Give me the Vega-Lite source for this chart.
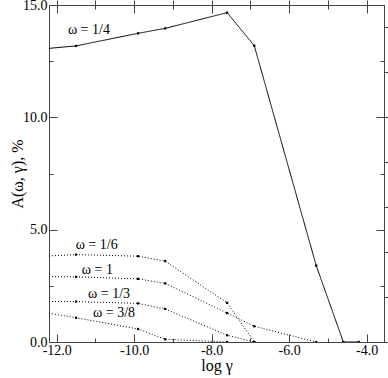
{
  "$schema": "https://vega.github.io/schema/vega-lite/v6.json",
  "width": 335,
  "height": 337,
  "autosize": {"type": "none"},
  "padding": {"left": 49, "top": 5, "right": 4, "bottom": 36},
  "background": "white",
  "config": {
    "view": {"stroke": null},
    "axis": {"grid": false, "domainColor": "#444", "tickColor": "#444", "labelFont": "Liberation Serif", "labelFontSize": 14, "labelColor": "black", "titleFont": "Liberation Serif", "titleColor": "black", "titleFontWeight": "normal", "labelOverlap": false, "labelFlush": false, "labelBound": false}
  },
  "datasets": {
    "curves": [
      {"omega": "1/4", "x": -12.2, "y": 13.07},
      {"omega": "1/4", "x": -11.5, "y": 13.18},
      {"omega": "1/4", "x": -9.9, "y": 13.74},
      {"omega": "1/4", "x": -9.2, "y": 13.96},
      {"omega": "1/4", "x": -7.6, "y": 14.66},
      {"omega": "1/4", "x": -6.9, "y": 13.19},
      {"omega": "1/4", "x": -5.3, "y": 3.40},
      {"omega": "1/4", "x": -4.6, "y": 0},
      {"omega": "1/4", "x": -4.2, "y": 0},
      {"omega": "1/6", "x": -12.2, "y": 3.83},
      {"omega": "1/6", "x": -11.5, "y": 3.89},
      {"omega": "1/6", "x": -9.9, "y": 3.82},
      {"omega": "1/6", "x": -9.2, "y": 3.60},
      {"omega": "1/6", "x": -7.6, "y": 1.74},
      {"omega": "1/6", "x": -6.9, "y": 0},
      {"omega": "1", "x": -12.2, "y": 2.91},
      {"omega": "1", "x": -11.5, "y": 2.90},
      {"omega": "1", "x": -9.9, "y": 2.81},
      {"omega": "1", "x": -9.2, "y": 2.61},
      {"omega": "1", "x": -7.6, "y": 1.29},
      {"omega": "1", "x": -6.9, "y": 0.70},
      {"omega": "1", "x": -5.3, "y": 0},
      {"omega": "1/3", "x": -12.2, "y": 1.80},
      {"omega": "1/3", "x": -11.5, "y": 1.80},
      {"omega": "1/3", "x": -9.9, "y": 1.72},
      {"omega": "1/3", "x": -9.2, "y": 1.47},
      {"omega": "1/3", "x": -7.6, "y": 0.30},
      {"omega": "1/3", "x": -6.9, "y": 0},
      {"omega": "3/8", "x": -12.2, "y": 1.28},
      {"omega": "3/8", "x": -11.5, "y": 1.08},
      {"omega": "3/8", "x": -9.9, "y": 0.58},
      {"omega": "3/8", "x": -9.2, "y": 0.12},
      {"omega": "3/8", "x": -7.6, "y": 0}
    ],
    "labels": [
      {"x": -11.17, "y": 13.89, "label": "ω = 1/4"},
      {"x": -10.97, "y": 4.32, "label": "ω = 1/6"},
      {"x": -10.95, "y": 3.21, "label": "ω = 1"},
      {"x": -10.65, "y": 2.14, "label": "ω = 1/3"},
      {"x": -10.52, "y": 1.29, "label": "ω = 3/8"}
    ]
  },
  "layer": [
    {
      "data": {"name": "curves"},
      "mark": {"type": "line", "clip": true, "strokeWidth": 1, "color": "black"},
      "encoding": {
        "x": {"field": "x", "type": "quantitative", "scale": {"domain": [-12.2, -3.55], "nice": false, "zero": false},
          "axis": {"orient": "bottom", "title": "log γ", "titleFontSize": 16, "titlePadding": -4,
            "values": [-12, -11, -10, -9, -8, -7, -6, -5, -4],
            "tickSize": {"condition": {"test": "datum.value % 2 == 0", "value": -8}, "value": -4},
            "labelPadding": 9,
            "labelExpr": "datum.value % 2 == 0 ? replace(format(datum.value, '.1f'), '−', '-') : ''"}},
        "y": {"field": "y", "type": "quantitative", "scale": {"domain": [0, 15], "nice": false},
          "axis": {"orient": "left", "title": "A(ω, γ), %", "titleFontSize": 16, "titlePadding": -3,
            "values": [0, 2.5, 5, 7.5, 10, 12.5, 15],
            "tickSize": {"condition": {"test": "datum.value % 5 == 0", "value": -8}, "value": -4},
            "labelPadding": 10,
            "labelExpr": "datum.value % 5 == 0 ? format(datum.value, '.1f') : ''"}},
        "detail": {"field": "omega"},
        "strokeDash": {"field": "omega", "type": "nominal", "legend": null,
          "scale": {"domain": ["1/4", "1/6", "1", "1/3", "3/8"], "range": [[1, 0], [1, 2], [1, 2], [1, 2], [1, 2]]}}
      }
    },
    {
      "data": {"name": "curves"},
      "transform": [{"filter": "datum.x > -12.1"}],
      "mark": {"type": "point", "shape": "square", "filled": true, "size": 5, "color": "black", "opacity": 1, "clip": true},
      "encoding": {
        "x": {"field": "x", "type": "quantitative"},
        "y": {"field": "y", "type": "quantitative"}
      }
    },
    {
      "data": {"name": "labels"},
      "mark": {"type": "text", "font": "Liberation Serif", "fontSize": 14, "color": "black", "align": "center", "baseline": "middle"},
      "encoding": {
        "x": {"field": "x", "type": "quantitative",
          "axis": {"orient": "top", "title": null, "labels": false,
            "values": [-12, -11, -10, -9, -8, -7, -6, -5, -4],
            "tickSize": {"condition": {"test": "datum.value % 2 == 0", "value": -8}, "value": -4}}},
        "y": {"field": "y", "type": "quantitative",
          "axis": {"orient": "right", "title": null, "labels": false,
            "values": [0, 2.5, 5, 7.5, 10, 12.5, 15],
            "tickSize": {"condition": {"test": "datum.value % 5 == 0", "value": -8}, "value": -4}}},
        "text": {"field": "label"}
      }
    }
  ],
  "resolve": {"axis": {"x": "independent", "y": "independent"}}
}
